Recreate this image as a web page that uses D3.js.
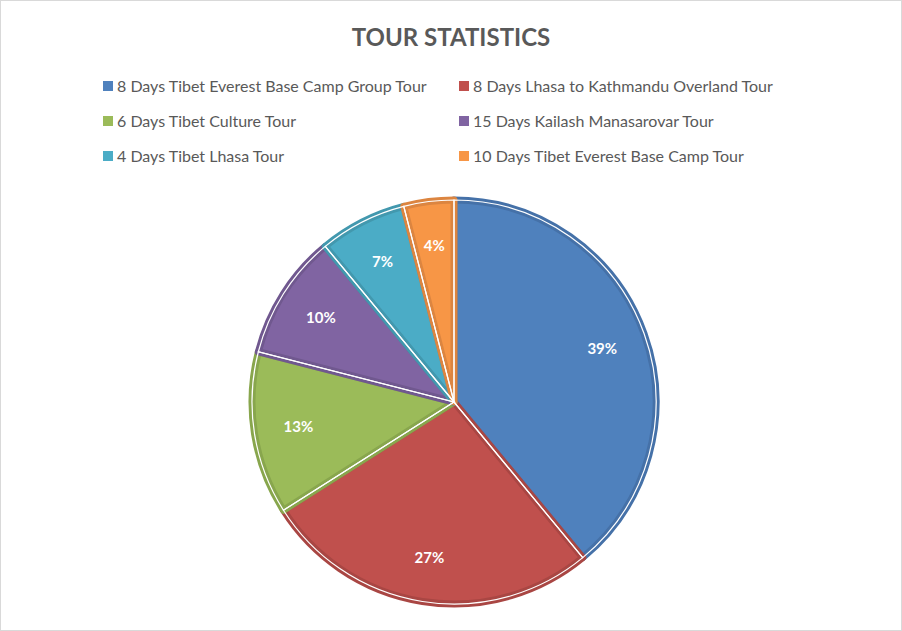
<!DOCTYPE html>
<html><head><meta charset="utf-8">
<script src="https://cdn.jsdelivr.net/npm/d3@7"></script>
<style>body{margin:0;background:#fff;font-family:Lato,"Open Sans",sans-serif;}</style>
</head><body><svg id="c" width="902" height="631"></svg>
<script>
var tours = ['8 Days Tibet Everest Base Camp Group Tour','8 Days Lhasa to Kathmandu Overland Tour',
  '6 Days Tibet Culture Tour','15 Days Kailash Manasarovar Tour','4 Days Tibet Lhasa Tour','10 Days Tibet Everest Base Camp Tour'];
var shares = [39, 27, 13, 10, 7, 4];
var fills = ['#4f81bd','#c0504d','#9bbb59','#8064a2','#4bacc6','#f79646'];
var edges = ['#4571a8','#a94643','#88a64d','#70588f','#4298ae','#dc8540'];

var svg = d3.select('#c');
svg.append('rect').attr('x',0.5).attr('y',0.5).attr('width',901).attr('height',630).attr('fill','#fff').attr('stroke','#d9d9d9');
svg.append('text').attr('x',451).attr('y',46).attr('text-anchor','middle')
  .attr('font-size',24).attr('font-weight','bold').attr('fill','#595959').text('TOUR STATISTICS');

// legend
var leg = svg.append('g');
tours.forEach(function(t, i) {
  var x = i % 2 ? 459 : 103, y = 86 + Math.floor(i / 2) * 35;
  leg.append('rect').attr('x', x).attr('y', y - 5).attr('width', 10).attr('height', 10).attr('fill', fills[i]);
  leg.append('text').attr('x', x + 14).attr('y', y + 6).attr('font-size', 16).attr('fill', '#595959').text(t);
});

var cx = 454, cy = 402, r = 202;
var pie = d3.pie().sort(null).value(function(d){return d;});
var arc = d3.arc().innerRadius(0).outerRadius(r);
var g = svg.append('g').attr('transform','translate('+cx+','+cy+')');
var arcs = pie(shares);
g.selectAll('path').data(arcs).enter().append('path')
  .attr('d', arc)
  .attr('fill', function(d,i){return fills[i];})
  .attr('stroke', function(d,i){return edges[i];})
  .attr('stroke-width', 7).attr('stroke-linejoin','round');
// thin white separators
g.selectAll('path.sep').data(arcs).enter().append('path')
  .attr('d', arc).attr('fill','none').attr('stroke','#fff').attr('stroke-width',1.2);

var lab = d3.arc().innerRadius(r*0.78).outerRadius(r*0.78);
g.selectAll('text').data(arcs).enter().append('text')
  .attr('transform', function(d){ return 'translate(' + lab.centroid(d) + ')'; })
  .attr('text-anchor','middle').attr('dy','0.35em')
  .attr('font-size',15).attr('font-weight','bold').attr('fill','#fff')
  .text(function(d){ return d.data + '%'; });
</script></body></html>
